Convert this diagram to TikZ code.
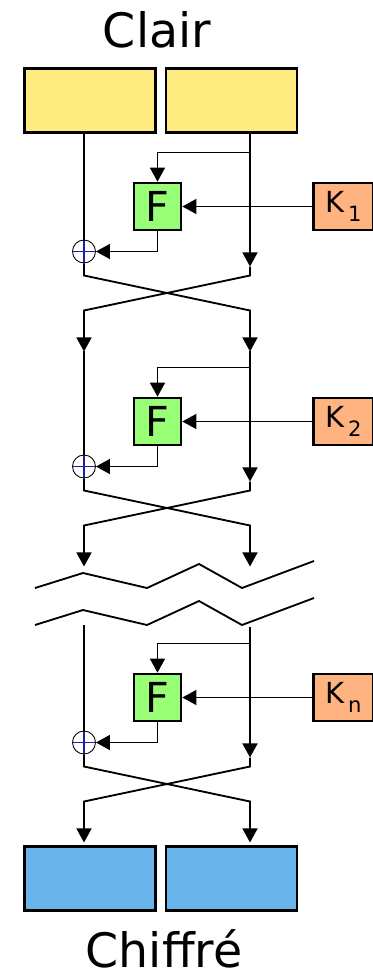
\documentclass[tikz,border=0pt]{standalone}
\usepackage{fontspec}
\setmainfont{DejaVu Sans}
\usetikzlibrary{arrows.meta}
\definecolor{clair}{RGB}{255,236,128}
\definecolor{chiffre}{RGB}{106,180,236}
\definecolor{fonc}{RGB}{153,255,119}
\definecolor{cle}{RGB}{255,179,128}
\definecolor{croix}{RGB}{30,30,170}

\begin{document}
\begin{tikzpicture}[x=0.02cm, y=-0.02cm, >={Triangle[length=8pt,width=8.5pt]},
  fil/.style={line width=1.05pt},
  bloc/.style={draw, line width=1.5pt, minimum width=2.62cm, minimum height=1.28cm, inner sep=0pt},
  fbloc/.style={draw, fill=fonc, line width=1.5pt, minimum size=0.94cm, inner sep=0pt, font=\fontsize{23.5}{24}\selectfont},
  kbloc/.style={draw, fill=cle, line width=1.5pt, minimum width=1.2cm, minimum height=0.94cm, inner sep=0pt, font=\fontsize{16.5}{17}\selectfont},
  xor/.style={circle, draw, line width=0.5pt, minimum size=0.46cm, inner sep=0pt,
    path picture={\draw[croix, line width=0.7pt]
      (path picture bounding box.north) -- (path picture bounding box.south)
      (path picture bounding box.west) -- (path picture bounding box.east);}}]
\useasboundingbox (0,0) rectangle (372,973);
% texte clair
\node[anchor=base, font=\fontsize{27}{27}\selectfont] (titre) at (157,48) {Clair};
\node[bloc, fill=clair] (L0) at (90,100.5) {};
\node[bloc, fill=clair] (R0) at (231.5,100.5) {};
% les tours (1, 2, n)
\foreach \i/\y/\k/\a/\b in {1/206.5/1/134/134, 2/421.5/2/351/351, 3/697.5/n/625/627} {
  \node[fbloc] (F\i) at (157.5,\y) {F};
  \node[kbloc] (K\i) at (343.5,\y) {K\kern2pt\raisebox{-5.5pt}{\fontsize{12}{12}\selectfont\k}};
  \node[xor] (X\i) at (84,\y+45) {};
  \coordinate (G\i) at (84,\a);
  \coordinate (H\i) at (250,\b);
  \coordinate (T\i) at (250,\y-54);
  \coordinate (D\i) at (250,\y+60);
  \draw[fil] (G\i) -- (X\i.north);
  \draw[fil,->] (H\i) -- (D\i);
  \draw[fil,->] (T\i) -| (F\i.north);
  \draw[fil,->] (K\i) -- (F\i);
  \draw[fil,->] (F\i.south) |- (X\i.east);
  % croisement des moitiés
  \draw[fil,->] (X\i.south) -- (84,\y+69) -- (250,\y+104) -- (250,\y+145);
  \draw[fil,->] (D\i) -- (250,\y+69) -- (84,\y+104) -- (84,\y+145);
}
% coupure
\draw[fil] (35,588) -- (83,573) -- (147,588) -- (199,564) -- (242,588) -- (314,561);
\draw[fil] (35,625) -- (83,610) -- (147,625) -- (199,601) -- (242,625) -- (314,598);
% texte chiffré
\node[bloc, fill=chiffre] (L4) at (90,878.5) {};
\node[bloc, fill=chiffre] (R4) at (231.5,878.5) {};
\node[anchor=base, font=\fontsize{27}{27}\selectfont] (fin) at (164,967) {Chiffré};
\end{tikzpicture}
\end{document}
